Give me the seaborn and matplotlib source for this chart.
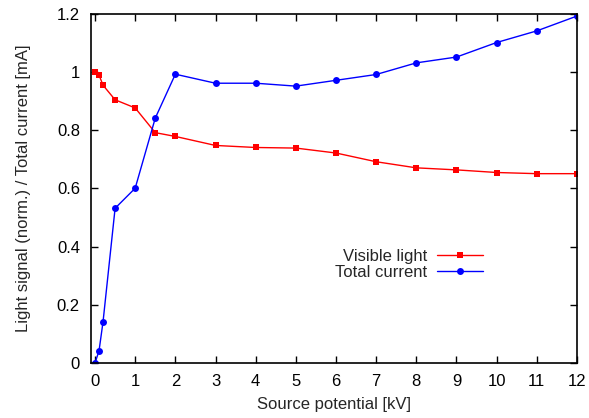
import numpy as np
import pandas as pd
import matplotlib
matplotlib.use("Agg")
import matplotlib.pyplot as plt
import seaborn as sns
from matplotlib.ticker import FuncFormatter

# data
voltage = [0, 0.1, 0.2, 0.5, 1, 1.5, 2, 3, 4, 5, 6, 7, 8, 9, 10, 11, 12]
visible_light = [1.0, 0.99, 0.955, 0.905, 0.877, 0.792, 0.779, 0.748, 0.741, 0.739,
                 0.722, 0.692, 0.671, 0.664, 0.655, 0.651, 0.651]
total_current = [0.0, 0.042, 0.142, 0.532, 0.601, 0.842, 0.993, 0.962, 0.962, 0.952,
                 0.972, 0.992, 1.032, 1.052, 1.102, 1.142, 1.193]

sns.set_style("ticks")
plt.rcParams["font.family"] = ["Liberation Sans", "DejaVu Sans"]

df = pd.concat([
    pd.DataFrame({"kV": voltage, "val": visible_light, "series": "Visible light"}),
    pd.DataFrame({"kV": voltage, "val": total_current, "series": "Total current"}),
])

fig = plt.figure(figsize=(5.89, 4.18), dpi=100)
ax = fig.add_axes([0.1545, 0.1316, 0.9796 - 0.1545, 0.9665 - 0.1316])

sns.lineplot(data=df, x="kV", y="val", hue="series", style="series",
             palette={"Visible light": "#ff0000", "Total current": "#0000ff"},
             markers={"Visible light": "s", "Total current": "o"},
             dashes=False, markersize=5, markeredgewidth=0, linewidth=1,
             ax=ax)

ax.set_xlim(-0.1, 12)
ax.set_ylim(0, 1.2)
ax.set_xticks(range(0, 13))
ax.set_yticks(np.arange(0, 1.21, 0.2))
ax.yaxis.set_major_formatter(FuncFormatter(lambda v, p: f"{v:g}"))
ax.tick_params(direction="in", length=5, width=1, top=True, right=True,
               labelsize=12, colors="black", pad=8)
for s in ax.spines.values():
    s.set_linewidth(1.2)
    s.set_color("black")

ax.set_xlabel("Source potential [kV]", fontsize=12)
ax.set_ylabel("Light signal (norm.) / Total current [mA]", fontsize=12)
ax.xaxis.set_label_coords(0.5, -0.097)
ax.yaxis.set_label_coords(-0.123, 0.5)

leg = ax.legend(loc="center right", bbox_to_anchor=(0.837, 0.282), frameon=False,
                markerfirst=False, fontsize=12, handlelength=2.75,
                labelspacing=0.05, handletextpad=0.6)

fig.savefig("out.png", dpi=100)
